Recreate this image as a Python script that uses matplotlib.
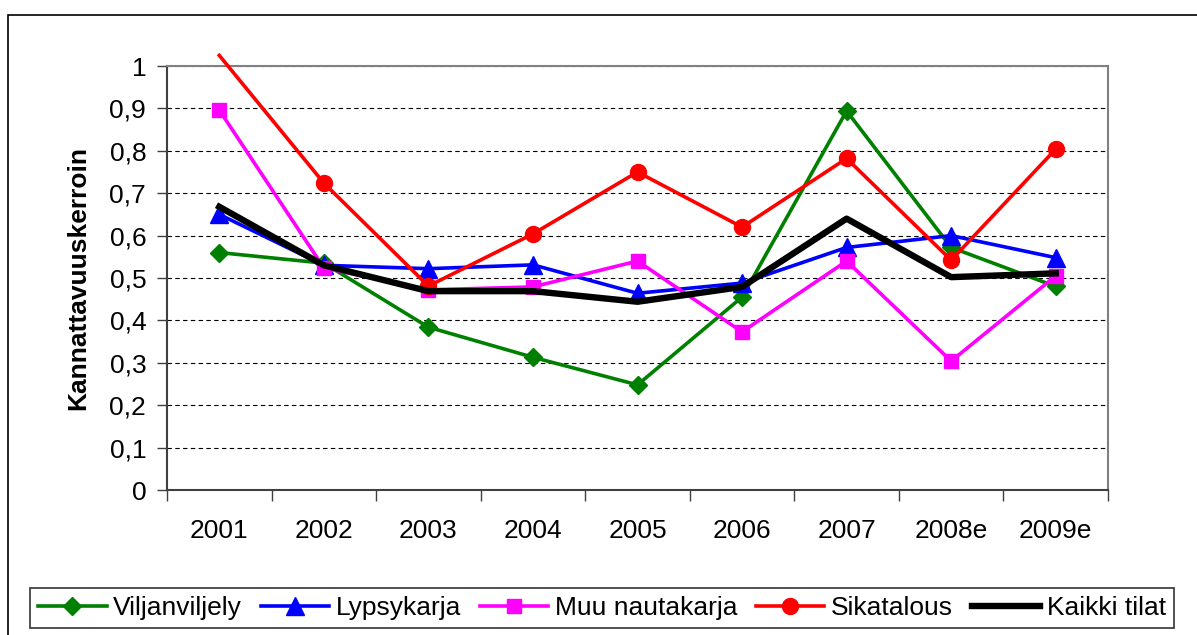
import matplotlib.pyplot as plt
from matplotlib.patches import Rectangle
import numpy as np

plt.rcParams['font.family'] = ['Liberation Sans', 'DejaVu Sans']

years = ['2001', '2002', '2003', '2004', '2005', '2006', '2007', '2008e', '2009e']

viljanviljely = [0.56, 0.535, 0.384, 0.313, 0.248, 0.455, 0.894, 0.572, 0.48]
lypsykarja    = [0.65, 0.53, 0.522, 0.531, 0.464, 0.488, 0.572, 0.60, 0.548]
muu_nauta     = [0.896, 0.524, 0.472, 0.479, 0.54, 0.373, 0.54, 0.304, 0.505]
sikatalous    = [1.025, 0.724, 0.481, 0.604, 0.75, 0.62, 0.782, 0.542, 0.804]
kaikki        = [0.668, 0.53, 0.469, 0.469, 0.444, 0.479, 0.64, 0.502, 0.511]

W, H = 1197, 635
FS = 19
fig = plt.figure(figsize=(W / 100, H / 100), dpi=100)

# outer chart border (cut by image edge on right and bottom)
fig.patches.append(Rectangle((8 / W, -0.1), 1.1, (H - 15) / H + 0.1,
                             transform=fig.transFigure, fill=False,
                             edgecolor='black', linewidth=1.2))

ax = fig.add_axes([167 / W, (H - 490) / H, (1108 - 167) / W, (490 - 66) / H])
x = np.arange(len(years))

ax.plot(x, viljanviljely, color='#008000', lw=2.6, marker='D', ms=9.5,
        label='Viljanviljely', zorder=3)
ax.plot(x, lypsykarja, color='#0000FF', lw=2.6, marker='^', ms=12.5,
        label='Lypsykarja', zorder=3)
ax.plot(x, muu_nauta, color='#FF00FF', lw=2.6, marker='s', ms=10.5,
        label='Muu nautakarja', zorder=3)
inside = [i for i, v in enumerate(sikatalous) if v <= 1]
ax.plot(x, sikatalous, color='#FF0000', lw=2.6, marker='o', ms=11.5,
        markevery=inside, label='Sikatalous', zorder=3, clip_on=False)
ax.plot(x, kaikki, color='black', lw=4.6, label='Kaikki tilat', zorder=4)

ax.set_xlim(-0.5, len(years) - 0.5)
ax.set_ylim(0, 1)
yt = np.round(np.arange(0, 1.01, 0.1), 1)
ax.set_yticks(yt)
ax.set_yticklabels([('%g' % v).replace('.', ',') for v in yt])
ax.set_xticks(x)
ax.set_xticklabels(years)
ax.set_xticks(np.arange(-0.5, len(years)), minor=True)
ax.tick_params(axis='x', which='major', length=0, pad=21, labelsize=FS)
ax.tick_params(axis='x', which='minor', length=8, width=1, color='#404040')
ax.tick_params(axis='y', length=7, width=1, color='#404040', labelsize=FS, pad=8)

ax.grid(axis='y', color='black', linestyle=(0, (4, 3)), linewidth=0.8)
ax.set_axisbelow(True)
for s in ['top', 'right']:
    ax.spines[s].set_color('#808080')
    ax.spines[s].set_linewidth(1.5)
for s in ['left', 'bottom']:
    ax.spines[s].set_color('#404040')
    ax.spines[s].set_linewidth(1.5)

ax.set_ylabel('Kannattavuuskerroin', fontsize=FS, fontweight='bold', labelpad=14)

leg = fig.legend(loc='center', bbox_to_anchor=(602 / W, (H - 608) / H), ncol=5,
                 fontsize=FS, frameon=True, fancybox=False, edgecolor='black',
                 handlelength=2.6, columnspacing=0.7, handletextpad=0.25,
                 borderpad=0.3, borderaxespad=0)
leg.get_frame().set_linewidth(1.2)

fig.savefig('out.png', dpi=100)
